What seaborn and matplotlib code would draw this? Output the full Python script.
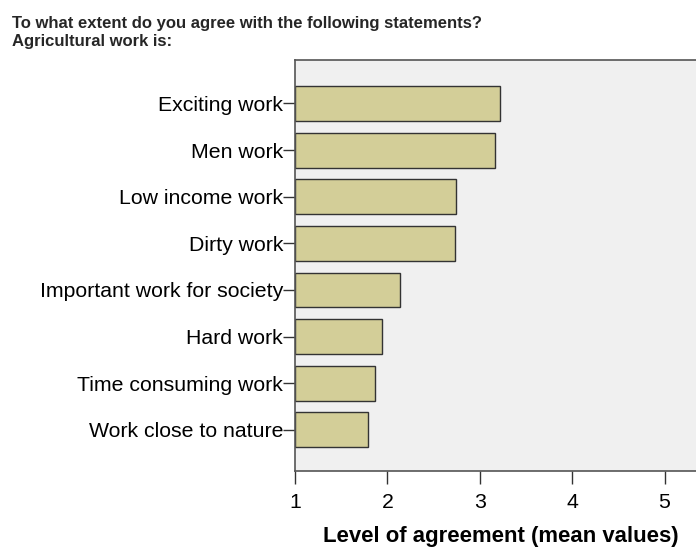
import pandas as pd
import matplotlib.pyplot as plt
import seaborn as sns
from matplotlib import font_manager

# Mean agreement per statement
statements = ["Exciting work", "Men work", "Low income work", "Dirty work",
              "Important work for society", "Hard work", "Time consuming work",
              "Work close to nature"]
mean_values = [3.22, 3.16, 2.74, 2.73, 2.14, 1.94, 1.87, 1.79]
x_ticks = [1, 2, 3, 4, 5]
title_lines = ["To what extent do you agree with the following statements?",
               "Agricultural work is:"]

df = pd.DataFrame({"Statement": statements, "Mean": mean_values})

sns.set_theme(style="white")
plt.rcParams["font.family"] = ["Liberation Sans", "DejaVu Sans"]

# the title is set in a condensed bold face; use the narrow variant if installed
installed = {f.name for f in font_manager.fontManager.ttflist}
if "Liberation Sans Narrow" in installed:
    title_family, title_size = ["Liberation Sans Narrow", "Liberation Sans"], 14.7
else:
    title_family, title_size = ["Liberation Sans", "DejaVu Sans"], 12

fig = plt.figure(figsize=(6.96, 5.48), dpi=100)
ax = fig.add_axes([0.4239, 0.1405, 0.5761, 0.75])
ax.set_facecolor("#f0f0f0")

sns.barplot(data=df, x="Mean", y="Statement", orient="h", color="#d3ce98",
            saturation=1, width=0.75, edgecolor="#333333", linewidth=1.0, ax=ax)
# bars start at 1 (the scale minimum) instead of 0
for patch in ax.patches:
    w = patch.get_width()
    patch.set_x(1)
    patch.set_width(w - 1)

ax.set_xlim(1, 5.34)
ax.set_ylim(7.88, -0.93)
ax.set_xticks(x_ticks)
ax.set_xticklabels([str(t) for t in x_ticks])

for side in ["top", "left", "bottom"]:
    ax.spines[side].set_visible(True)
    ax.spines[side].set_color("#555555")
    ax.spines[side].set_linewidth(1.2)
ax.spines["right"].set_visible(False)

ax.tick_params(axis="y", direction="out", length=8.5, width=1, color="#333333",
               labelsize=15.3, pad=0, left=True)
ax.tick_params(axis="x", direction="out", length=9.5, width=1, color="#333333",
               labelsize=15.3, pad=6.3, bottom=True)
ax.set_ylabel("")
ax.set_xlabel("Level of agreement (mean values)", fontsize=15.9, fontweight="bold",
              labelpad=10, color="black")
ax.xaxis.label.set_x(0.5125)
for lbl in ax.get_xticklabels() + ax.get_yticklabels():
    lbl.set_color("black")

fig.text(0.017, 1 - 28.3 / 548, title_lines[0], ha="left", va="baseline",
         fontsize=title_size, fontweight="bold", family=title_family)
fig.text(0.017, 1 - 46 / 548, title_lines[1], ha="left", va="baseline",
         fontsize=title_size, fontweight="bold", family=title_family)

fig.savefig("out.png", dpi=100)
